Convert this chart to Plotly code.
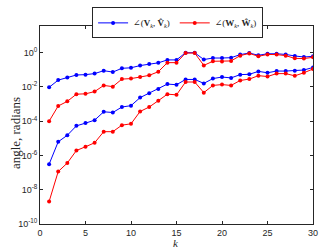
import numpy as np
import plotly.graph_objects as go

k = list(range(1, 31))

# log10 values
blue_upper_log = [-2.02, -1.60, -1.45, -1.30, -1.28, -1.22, -1.05, -1.13, -0.91, -0.88,
                  -0.75, -0.66, -0.59, -0.42, -0.42, 0.00, 0.00, -0.40, -0.31, -0.31,
                  -0.29, -0.11, -0.02, -0.15, -0.06, -0.06, -0.10, -0.19, -0.25, -0.21]
red_upper_log = [-4.00, -3.11, -2.84, -2.42, -2.40, -2.27, -1.91, -1.98, -1.54, -1.51,
                 -1.42, -1.32, -1.11, -0.58, -0.58, -0.02, -0.02, -0.74, -0.50, -0.51,
                 -0.48, -0.17, -0.04, -0.21, -0.10, -0.11, -0.17, -0.33, -0.34, -0.27]
blue_lower_log = [-6.51, -5.20, -4.82, -4.27, -4.11, -3.94, -3.45, -3.49, -3.17, -3.09,
                  -2.62, -2.37, -2.12, -1.83, -1.87, -1.56, -1.56, -1.79, -1.51, -1.42,
                  -1.47, -1.28, -1.26, -1.09, -1.17, -1.07, -1.07, -1.05, -1.01, -0.86]
red_lower_log = [-8.69, -6.94, -6.44, -5.71, -5.49, -5.26, -4.61, -4.61, -4.23, -4.15,
                 -3.43, -3.17, -2.80, -2.42, -2.46, -1.71, -1.71, -2.33, -1.91, -1.86,
                 -1.91, -1.62, -1.54, -1.34, -1.39, -1.22, -1.22, -1.35, -1.17, -0.95]

x_ticks = [0, 5, 10, 15, 20, 25, 30]
y_tick_exps = [0, -2, -4, -6, -8, -10]

BLUE = "#0000ff"
RED = "#ff0000"

name_v = "∠(<b>V</b><sub><i>k</i></sub>, <b>V̂</b><sub><i>k</i></sub>)"
name_w = "∠(<b>W</b><sub><i>k</i></sub>, <b>Ŵ</b><sub><i>k</i></sub>)"

fig = go.Figure()

def add(vals, color, name, show):
    fig.add_trace(go.Scatter(
        x=k, y=[10 ** v for v in vals], mode="lines+markers",
        line=dict(color=color, width=1),
        marker=dict(color=color, size=4, symbol="circle"),
        name=name, showlegend=show, legendgroup=name))

add(blue_upper_log, BLUE, name_v, True)
add(red_upper_log, RED, name_w, True)
add(blue_lower_log, BLUE, name_v, False)
add(red_lower_log, RED, name_w, False)

axis_color = "#262626"
fig.update_layout(
    width=325, height=248,
    margin=dict(l=40, r=7, t=22, b=24),
    paper_bgcolor="white", plot_bgcolor="white",
    font=dict(family="Liberation Sans, Arial, sans-serif", size=9, color=axis_color),
    showlegend=True,
    legend=dict(orientation="h", x=0.504, xanchor="center", y=1.094, yanchor="top",
                bgcolor="white", bordercolor=axis_color, borderwidth=1,
                font=dict(family="Liberation Serif, DejaVu Serif, serif", size=9, color=axis_color),
                itemwidth=30, tracegroupgap=0, traceorder="normal"),
)

fig.update_xaxes(
    range=[0, 30], tickvals=x_ticks, ticktext=[str(v) for v in x_ticks],
    ticks="inside", ticklen=3, tickwidth=0.6, tickcolor=axis_color,
    showline=True, linecolor=axis_color, linewidth=0.8, mirror="ticks",
    showgrid=False, zeroline=False,
    tickfont=dict(size=9, family="Liberation Sans, Arial, sans-serif"),
)
fig.update_yaxes(
    type="log", range=[-10, 1.56],
    tickvals=[10 ** e for e in y_tick_exps],
    ticktext=["10<sup>%d</sup>" % e for e in y_tick_exps],
    ticks="inside", ticklen=3, tickwidth=0.6, tickcolor=axis_color,
    showline=True, linecolor=axis_color, linewidth=0.8, mirror="ticks",
    showgrid=False, zeroline=False,
    tickfont=dict(size=9, family="Liberation Sans, Arial, sans-serif"),
)

fig.add_annotation(text="angle, radians", xref="paper", yref="paper",
                   x=-0.122, y=0.46, textangle=-90, showarrow=False,
                   font=dict(family="Liberation Serif, serif", size=13, color=axis_color))
fig.add_annotation(text="<i>k</i>", xref="paper", yref="paper",
                   x=0.497, y=-0.095, yanchor="middle", showarrow=False,
                   font=dict(family="Liberation Serif, serif", size=11, color=axis_color))

fig.write_html("out.html", config={"displayModeBar": False},
               post_script="document.body.style.margin='0';document.body.style.overflow='hidden';")
